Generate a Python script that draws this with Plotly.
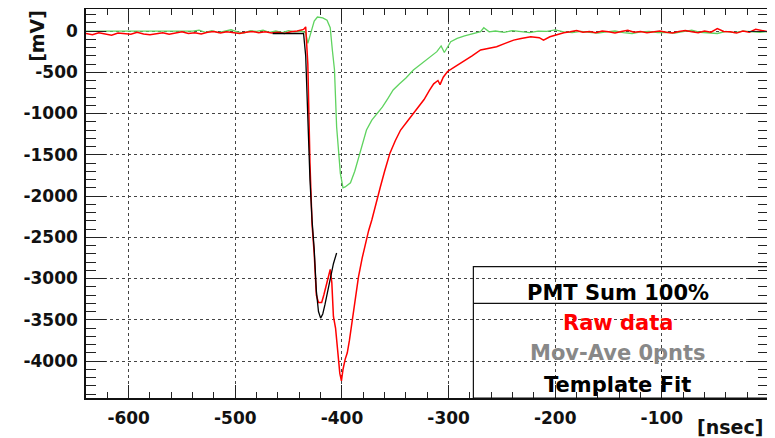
import plotly.graph_objects as go

# ---------------- data ----------------
# Raw data (red)
red_base1_t = list(range(-640, -435, 6))
red_base1_mv = [-30, -45, -20, -35, -50, -25, -30, -40, -15, -35, -45, -30, -20, -40, -25,
                -10, -30, -20, -35, -15, -5, -25, -10, -20, -30, -15, -5, -20, -10, -25,
                -15, -30, -10, 0, 20]
red_pulse_t = [-434, -432, -430, -428, -426, -424, -422, -419, -417, -414, -411, -409.5,
               -408, -406, -404, -402, -400.5, -399, -397, -395, -393, -391, -389, -387,
               -384.5, -381, -378, -375, -372, -368, -364, -360, -355, -350, -345, -339,
               -333, -328, -323, -318, -314, -310, -308, -305, -301, -295, -286, -278,
               -270, -263, -255, -247, -239, -232, -223, -215, -211, -205, -198, -192]
red_pulse_mv = [50, -400, -1600, -2350, -2700, -3200, -3290, -3290, -3200, -3050, -2890, -3050,
                -3460, -3600, -3900, -4150, -4240, -4100, -3980, -3900, -3750, -3580, -3400, -3200,
                -2980, -2750, -2570, -2420, -2290, -2080, -1890, -1700, -1480, -1330, -1200, -1100,
                -1000, -920, -830, -720, -640, -600, -650, -560, -490, -440, -370, -300,
                -230, -210, -190, -150, -110, -90, -70, -80, -110, -70, -45, -20]
red_base2_t = list(range(-186, 1, 6))
red_base2_mv = [-10, 5, -15, -5, -20, 0, -10, -25, -5, 10, -15, -5, -20, -10, 0, -15,
                -25, -5, 5, -10, -20, 0, -15, 30, -5, -10, -25, 0, -15, 20, 5, -10]

# Moving average / filtered trace (green)
green_flat_t = [-640, -540]
green_flat_mv = [0, 0]
green_base1_t = list(range(-534, -437, 6))
green_base1_mv = [10, -15, 5, -20, 0, 15, -10, -25, 5, -5, 10, -15, 0, -20, 5, -10, 0]
green_pulse_t = [-434, -432, -430, -426, -423, -418, -414, -411, -409, -407, -405, -403,
                 -401.5, -399, -397, -394, -392, -388, -383, -377, -372, -367, -362, -357,
                 -352, -346, -340, -333, -325, -317, -311, -307, -304, -298, -292, -285,
                 -278, -270, -267, -262]
green_pulse_mv = [-20, -150, -60, 120, 170, 160, 130, 40, -230, -470, -1160, -1500,
                  -1725, -1900, -1890, -1860, -1840, -1700, -1480, -1200, -1080, -1000, -920, -820,
                  -715, -640, -570, -473, -390, -311, -250, -180, -260, -130, -89, -60,
                  -40, -8, 40, -10]
green_base2_t = list(range(-256, 1, 8))
green_base2_mv = [0, -15, 5, -10, -20, 0, -5, 15, -10, -20, -5, -15, -25, -10, 0, -20, -30,
                  -10, -5, -20, -15, -25, -5, 10, -15, -20, -30, -5, -20, 0, -10, -15, -5]

# Template fit (black)
fit_t = [-465, -436, -434, -432, -430, -428, -426, -424, -422, -420, -418, -416, -413, -411, -408, -405]
fit_mv = [-30, -30, -300, -1100, -1800, -2300, -2650, -3150, -3400, -3480, -3430, -3320, -3120, -2980, -2820, -2690]

# tick labels (plain hyphen minus, as in the reference)
x_tickvals = [-600, -500, -400, -300, -200, -100]
x_ticktext = ["-600", "-500", "-400", "-300", "-200", "-100"]
y_tickvals = [0, -500, -1000, -1500, -2000, -2500, -3000, -3500, -4000]
y_ticktext = ["0", "-500", "-1000", "-1500", "-2000", "-2500", "-3000", "-3500", "-4000"]

legend_header = "PMT Sum 100%"
legend_items = ["Raw data", "Mov-Ave 0pnts", "Template Fit"]
legend_colors = ["#ff0000", "#888888", "#000000"]

# ---------------- figure ----------------
red_t = red_base1_t + red_pulse_t + red_base2_t
red_mv = red_base1_mv + red_pulse_mv + red_base2_mv
green_t = green_flat_t + green_base1_t + green_pulse_t + green_base2_t
green_mv = green_flat_mv + green_base1_mv + green_pulse_mv + green_base2_mv

fig = go.Figure()
fig.add_trace(go.Scatter(x=green_t, y=green_mv, mode="lines",
                         line=dict(color="#5fd35f", width=1.3), showlegend=False))
fig.add_trace(go.Scatter(x=red_t, y=red_mv, mode="lines",
                         line=dict(color="#ff0000", width=1.5), showlegend=False))
fig.add_trace(go.Scatter(x=fit_t, y=fit_mv, mode="lines",
                         line=dict(color="#000000", width=1.3), showlegend=False))

tick_font = dict(family="DejaVu Sans", size=17, color="#111111", weight="bold")

fig.update_xaxes(range=[-640, -0.5], tickmode="array", tickvals=x_tickvals, ticktext=x_ticktext,
                 ticks="inside", ticklen=13, tickwidth=1.3, tickcolor="#222",
                 minor=dict(ticks="inside", ticklen=6, tickmode="array",
                            tickvals=list(range(-640, 1, 20)), tickcolor="#222",
                            tickwidth=1.1, showgrid=False),
                 showline=True, linecolor="#111", linewidth=1.5, mirror="ticks",
                 showgrid=True, gridcolor="#444", griddash="dot", gridwidth=1,
                 zeroline=False, tickfont=tick_font, ticklabelstandoff=4, automargin=False)
fig.update_yaxes(range=[-4448, 267], tickmode="array", tickvals=y_tickvals, ticktext=y_ticktext,
                 ticks="inside", ticklen=20, tickwidth=1.3, tickcolor="#222",
                 minor=dict(ticks="inside", ticklen=10, tickmode="array",
                            tickvals=list(range(-4400, 201, 100)), tickcolor="#222",
                            tickwidth=1.1, showgrid=False),
                 showline=True, linecolor="#111", linewidth=1.5, mirror="ticks",
                 showgrid=True, gridcolor="#444", griddash="dot", gridwidth=1,
                 zeroline=False, tickfont=tick_font, ticklabelstandoff=3, automargin=False)

# legend box
fig.add_shape(type="rect", xref="paper", yref="paper", x0=0.568, x1=1.0, y0=0.0, y1=0.3375,
              line=dict(color="#111", width=1.2), fillcolor="rgba(0,0,0,0)")
fig.add_shape(type="line", xref="paper", yref="paper", x0=0.568, x1=1.0, y0=0.2434, y1=0.2434,
              line=dict(color="#111", width=1.2))

leg_font = dict(family="DejaVu Sans", size=21, weight="bold")
fig.add_annotation(text=legend_header, xref="paper", yref="paper", x=0.78, y=0.27,
                   showarrow=False, xanchor="center", yanchor="middle",
                   font=dict(leg_font, color="#000000"))
for txt, col, yy in zip(legend_items, legend_colors, [0.193, 0.1157, 0.0334]):
    fig.add_annotation(text=txt, xref="paper", yref="paper", x=0.78, y=yy,
                       showarrow=False, xanchor="center", yanchor="middle",
                       font=dict(leg_font, color=col))

# axis titles
fig.add_annotation(text="[mV]", xref="paper", yref="paper", x=-0.0718, y=1.003,
                   textangle=-90, showarrow=False, xanchor="center", yanchor="top",
                   font=dict(family="DejaVu Sans", size=19, color="#111", weight="bold"))
fig.add_annotation(text="[nsec]", xref="paper", yref="paper", x=0.9956, y=-0.0746,
                   showarrow=False, xanchor="right", yanchor="middle",
                   font=dict(family="DejaVu Sans", size=19, color="#111", weight="bold"))

# the page body adds an 8 px margin, so the figure is 8 px smaller and shifted
fig.update_layout(width=767, height=430, margin=dict(l=78, r=7, t=1, b=40),
                  plot_bgcolor="white", paper_bgcolor="white", showlegend=False)

fig.write_html("out.html")
